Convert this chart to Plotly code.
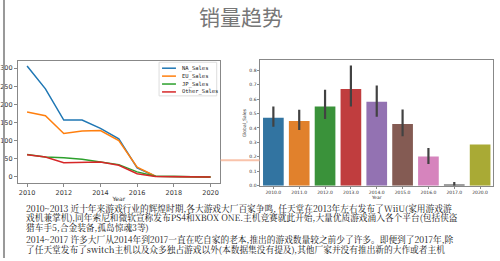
import plotly.graph_objects as go

# ---- line chart data (regional sales by year) ----
line_years = [2010, 2011, 2012, 2013, 2014, 2015, 2016, 2017, 2020]
na_sales = [306, 243, 157, 157, 134, 105, 25, 2, 0]
eu_sales = [179, 169, 120, 127, 128, 100, 27, 2, 0]
jp_sales = [62, 55, 53, 49, 41, 34, 14, 2, 0]
other_sales = [61, 55, 39, 41, 41, 32, 9, 1, 0]
line_names = ["NA_Sales", "EU_Sales", "JP_Sales", "Other_Sales"]
line_colors = ["#1f77b4", "#ff7f0e", "#2ca02c", "#d62728"]

# ---- bar chart data (mean global sales by year) ----
bar_years = ["2010.0", "2011.0", "2012.0", "2013.0", "2014.0", "2015.0", "2016.0", "2017.0", "2020.0"]
bar_means = [0.471, 0.448, 0.549, 0.670, 0.581, 0.427, 0.203, 0.009, 0.286]
ci_high = [0.549, 0.526, 0.665, 0.832, 0.693, 0.528, 0.261, 0.027, 0.286]
ci_low = [0.409, 0.386, 0.462, 0.549, 0.478, 0.343, 0.151, 0.000, 0.286]
bar_colors = ["#3274a1", "#e1812c", "#3a923a", "#c03d3e", "#9372b2",
              "#845b53", "#d684bd", "#7f7f7f", "#a9aa35"]

title_text = "销量趋势"
para_lines = [
    "2010~2013 近十年来游戏行业的辉煌时期,各大游戏大厂百家争鸣, 任天堂在2013年左右发布了WiiU(家用游戏游",
    "戏机兼掌机),同年索尼和微软宣称发布PS4和XBOX ONE.主机竞赛就此开始,大量优质游戏涌入各个平台(包括侠盗",
    "猎车手5,合金装备,孤岛惊魂3等)",
    "2014~2017 许多大厂从2014年到2017一直在吃自家的老本,推出的游戏数量较之前少了许多。即便到了2017年,除",
    "了任天堂发布了switch主机以及众多独占游戏以外(本数据集没有提及),其他厂家并没有推出新的大作或者主机",
]

W, H = 500, 261
def px(x):
    return x / W
def py(y):
    return 1 - y / H

fig = go.Figure()

series = [na_sales, eu_sales, jp_sales, other_sales]
for name, vals, col in zip(line_names, series, line_colors):
    fig.add_trace(go.Scatter(x=line_years, y=vals, mode="lines", name=name,
                             line=dict(color=col, width=1.5), showlegend=False,
                             xaxis="x", yaxis="y"))

fig.add_trace(go.Bar(
    x=bar_years, y=bar_means, marker=dict(color=bar_colors, line=dict(width=0)),
    width=0.8, showlegend=False, xaxis="x2", yaxis="y2",
    error_y=dict(type="data", symmetric=False,
                 array=[h - m for h, m in zip(ci_high, bar_means)],
                 arrayminus=[m - l for m, l in zip(bar_means, ci_low)],
                 color="#424242", thickness=2.2, width=0),
))

tickfont = dict(family="DejaVu Sans", size=6.5, color="#333")
small = dict(family="DejaVu Sans", size=4.5, color="#333")

fig.update_layout(
    width=W, height=H, margin=dict(l=0, r=0, t=0, b=0),
    paper_bgcolor="white", plot_bgcolor="white",
    showlegend=False,
    xaxis=dict(domain=[px(15), px(218)], range=[2009.5, 2020.5],
               tickvals=[2010, 2012, 2014, 2016, 2018, 2020],
               showgrid=False, zeroline=False, showline=True, mirror=True,
               linecolor="#888", linewidth=1, ticks="outside", ticklen=3,
               tickcolor="#888", tickfont=tickfont,
               title=dict(text="Year", font=dict(family="DejaVu Sans", size=6, color="#333"), standoff=1),
               anchor="y"),
    yaxis=dict(domain=[py(185), py(62)], range=[-16.4, 319],
               tickvals=[0, 50, 100, 150, 200, 250, 300],
               showgrid=False, zeroline=False, showline=True, mirror=True,
               linecolor="#888", linewidth=1, ticks="outside", ticklen=3,
               tickcolor="#888", tickfont=tickfont, anchor="x"),
    xaxis2=dict(domain=[px(259), px(493)], range=[-0.5, 8.5], type="category",
                showgrid=False, zeroline=False, showline=True, mirror=True,
                linecolor="#888", linewidth=1, ticks="outside", ticklen=2,
                tickcolor="#888", tickfont=small,
                title=dict(text="Year", font=small, standoff=1),
                anchor="y2"),
    yaxis2=dict(domain=[py(188), py(61)], range=[0, 0.868],
                tickvals=[0, 0.1, 0.2, 0.3, 0.4, 0.5, 0.6, 0.7, 0.8],
                tickformat=".1f",
                showgrid=False, zeroline=False, showline=True, mirror=True,
                linecolor="#888", linewidth=1, ticks="outside", ticklen=2,
                tickcolor="#888", tickfont=small,
                title=dict(text="Global_Sales", font=small, standoff=2),
                anchor="x2"),
)

annotations = [dict(text=title_text, x=px(239), y=py(16), xref="paper", yref="paper",
                    xanchor="center", yanchor="middle", showarrow=False,
                    font=dict(family="Noto Sans CJK SC", size=21, color="#777"))]
line_y = [210, 220, 230, 242, 252]
for t, yy in zip(para_lines, line_y):
    annotations.append(dict(text=t, x=px(21), y=py(yy), xref="paper", yref="paper",
                            xanchor="left", yanchor="middle", showarrow=False,
                            font=dict(family="Noto Serif CJK SC, Noto Sans CJK SC", size=8.7, color="#111")))

shapes = [
    dict(type="line", xref="paper", yref="paper", x0=px(1), x1=px(1), y0=0, y1=1,
         line=dict(color="#999", width=2)),
    dict(type="line", xref="paper", yref="paper", x0=px(219), x1=px(258), y0=py(162), y1=py(162),
         line=dict(color="#f9c3ab", width=2)),
    # legend box
    dict(type="rect", xref="paper", yref="paper", x0=px(157), x1=px(215), y0=py(97), y1=py(63),
         line=dict(color="#dddddd", width=1), fillcolor="white", layer="above"),
]
legend_y = [69, 77, 85, 93]
for name, col, yy in zip(line_names, line_colors, legend_y):
    shapes.append(dict(type="line", xref="paper", yref="paper", x0=px(160), x1=px(174),
                       y0=py(yy), y1=py(yy), line=dict(color=col, width=1.5), layer="above"))
    annotations.append(dict(text=name, x=px(178), y=py(yy), xref="paper", yref="paper",
                            xanchor="left", yanchor="middle", showarrow=False,
                            font=dict(family="DejaVu Sans Mono", size=5.5, color="#222")))

fig.update_layout(annotations=annotations, shapes=shapes)

fig.write_html("out.html")
